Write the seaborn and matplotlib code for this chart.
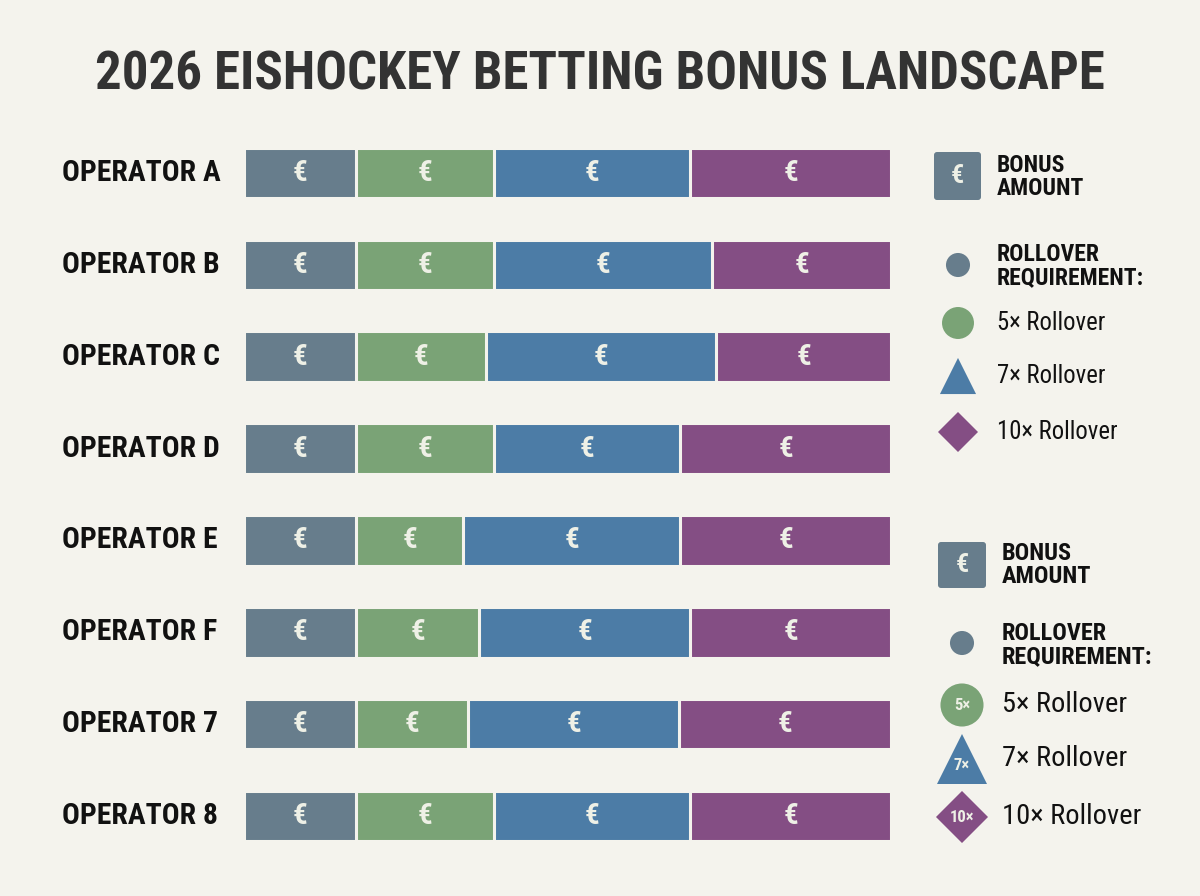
import numpy as np
import pandas as pd
import seaborn as sns
import matplotlib.pyplot as plt
from matplotlib.patches import FancyBboxPatch
from matplotlib.transforms import blended_transform_factory

# data: segment widths per operator (all bars stack to the same total)
operators = ['OPERATOR A', 'OPERATOR B', 'OPERATOR C', 'OPERATOR D',
             'OPERATOR E', 'OPERATOR F', 'OPERATOR 7', 'OPERATOR 8']
bonus_amount = [112, 112, 112, 112, 112, 112, 112, 112]
rollover_5x = [138, 138, 130, 138, 107, 123, 112, 138]
rollover_7x = [195, 217, 229, 185, 216, 210, 210, 195]
rollover_10x = [200, 178, 174, 210, 210, 200, 211, 200]

segment_names = ['Bonus', '5x', '7x', '10x']
segment_colors = ['#677d8c', '#7aa376', '#4c7ca6', '#844e84']
bg = '#f4f3ed'
light = '#eef0e6'

sns.set_theme(style='white')
plt.rcParams['font.family'] = ['Roboto Condensed', 'DejaVu Sans']

df = pd.DataFrame({'operator': operators, 'Bonus': bonus_amount, '5x': rollover_5x,
                   '7x': rollover_7x, '10x': rollover_10x})
cum = df[segment_names].cumsum(axis=1)
starts = cum - df[segment_names]
for name in segment_names:
    df['cum_' + name] = cum[name]

fig = plt.figure(figsize=(12, 8.96), dpi=100, facecolor=bg)
ax = fig.add_axes([243.5 / 1200, 34 / 896, 647.5 / 1200, 735 / 896])
ax.set_facecolor('none')

# stacked bars: draw the running totals from longest to shortest
for name, col in reversed(list(zip(segment_names, segment_colors))):
    sns.barplot(data=df, y='operator', x='cum_' + name, orient='h', color=col,
                saturation=1, width=0.55, edgecolor=bg, linewidth=2.2,
                errorbar=None, ax=ax)

ax.set_xlim(0, cum['10x'].max())
ax.set_ylim(7.5, -0.5)
ax.axis('off')

# euro sign in the middle of each segment
for i in range(len(operators)):
    for name in segment_names:
        xc = starts.loc[i, name] + df.loc[i, name] / 2
        ax.text(xc, i, '€', ha='center', va='center', color=light,
                fontsize=21, fontweight='bold')

# operator names
tr = blended_transform_factory(fig.transFigure, ax.transData)
for i, op in enumerate(operators):
    ax.text(62 / 1200, i, op, transform=tr, ha='left', va='center',
            fontsize=21.3, fontweight='bold', color='#111111')

fig.text(0.5, 1 - 75 / 896, '2026 EISHOCKEY BETTING BONUS LANDSCAPE', ha='center',
         va='center', fontsize=38, fontweight='bold', color='#333333')

# legend panels drawn in pixel coordinates
lax = fig.add_axes([0, 0, 1, 1])
lax.set_xlim(0, 1200)
lax.set_ylim(896, 0)
lax.axis('off')


def legend_block(x0, box, txt_x, y_bonus, y_roll, circ, rows, big):
    bx, by, bw, bh = box
    lax.add_patch(FancyBboxPatch((bx, by), bw, bh, boxstyle='round,pad=0,rounding_size=3',
                                 fc=segment_colors[0], ec='none'))
    lax.text(bx + bw / 2, by + bh / 2, '€', ha='center', va='center', color=light,
             fontsize=19, fontweight='bold')
    hs = 17.5 if big else 17
    lax.text(txt_x, y_bonus, 'BONUS\nAMOUNT', ha='left', va='center', fontsize=hs,
             fontweight='bold', color='#111111', linespacing=1.05)
    lax.scatter([x0], [circ], s=300, color=segment_colors[0], edgecolor='none')
    lax.text(txt_x, y_roll, 'ROLLOVER\nREQUIREMENT:', ha='left', va='center', fontsize=hs,
             fontweight='bold', color='#111111', linespacing=1.05)
    for (y, mk, s, col, lab, inner) in rows:
        lax.scatter([x0], [y], s=s, marker=mk, color=col, edgecolor='none')
        if big:
            dy = 7 if mk == '^' else 0
            lax.text(x0, y + dy, inner, ha='center', va='center', color=light,
                     fontsize=12, fontweight='bold')
        lax.text(txt_x, y, lab, ha='left', va='center', fontsize=20.5 if big else 17.8,
                 color='#111111')


legend_block(958, (934, 152, 47, 48), 997, 177, 266, 265,
             [(323, 'o', 530, segment_colors[1], '5× Rollover', '5×'),
              (376, '^', 676, segment_colors[2], '7× Rollover', '7×'),
              (432, 'D', 415, segment_colors[3], '10× Rollover', '10×')], False)
legend_block(962, (938, 542, 48, 46), 1002, 565, 645, 643,
             [(705, 'o', 961, segment_colors[1], '5× Rollover', '5×'),
              (759, '^', 1296, segment_colors[2], '7× Rollover', '7×'),
              (817, 'D', 702, segment_colors[3], '10× Rollover', '10×')], True)

fig.savefig('out.png', dpi=100, facecolor=bg)
